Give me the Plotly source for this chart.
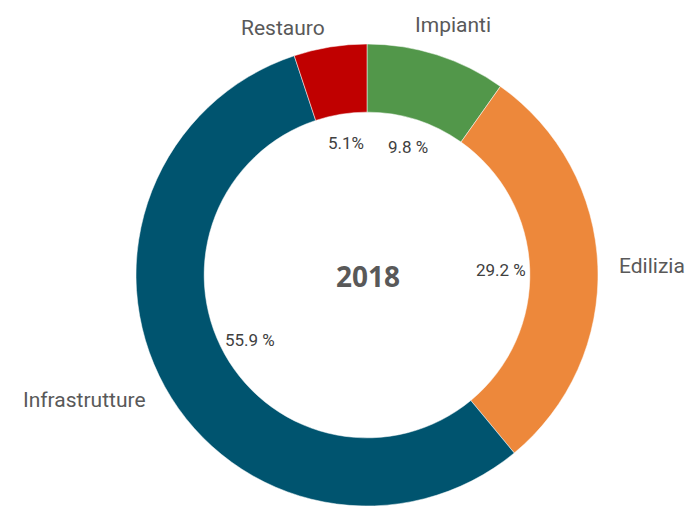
import math
import plotly.graph_objects as go

# ---- data ----
categories = ["Impianti", "Edilizia", "Infrastrutture", "Restauro"]
values = [9.8, 29.2, 55.9, 5.1]
pct_labels = ["9.8 %", "29.2 %", "55.9 %", "5.1%"]
colors = ["#52974A", "#ED883B", "#00546F", "#C00000"]
center_title = "2018"

# ---- layout geometry (pixels) ----
W, H = 688, 506
cx, cy = 367, 275          # donut centre
R = 231                    # outer radius
hole = 0.705
r_pct = 134                # radius for percentage labels (inside the hole)
r_lab = 250                # radius for category labels
label_shift = {"Impianti": (-30, -12), "Infrastrutture": (0, 4)}  # small placement tweaks (px)

fig = go.Figure()
fig.add_trace(go.Pie(
    labels=categories,
    values=values,
    marker=dict(colors=colors, line=dict(color="white", width=0.5)),
    hole=hole,
    sort=False,
    direction="clockwise",
    rotation=0,
    textinfo="none",
    hoverinfo="label+percent",
    showlegend=False,
    domain=dict(x=[(cx - R) / W, (cx + R) / W],
                y=[max(0, (H - cy - R) / H), min(1, (H - cy + R) / H)]),
))

annotations = []
total = sum(values)
cum = 0.0
for cat, v, pl in zip(categories, values, pct_labels):
    mid = (cum + v / 2) / total * 2 * math.pi
    cum += v
    s, c = math.sin(mid), math.cos(mid)
    # percentage label inside the hole
    px, py = cx + r_pct * s, cy - r_pct * c
    annotations.append(dict(
        x=px / W, y=1 - py / H, xref="paper", yref="paper",
        text=pl, showarrow=False, xanchor="center", yanchor="middle",
        font=dict(family="Roboto", size=17, color="#404040"),
    ))
    # category label outside the ring
    dx, dy = label_shift.get(cat, (0, 0))
    lx, ly = cx + r_lab * s + dx, cy - r_lab * c + dy
    annotations.append(dict(
        x=lx / W, y=1 - ly / H, xref="paper", yref="paper",
        text=cat, showarrow=False,
        xanchor="left" if s > 0 else "right", yanchor="middle",
        font=dict(family="Roboto", size=21, color="#595959"),
    ))

annotations.append(dict(
    x=368 / W, y=1 - 276 / H, xref="paper", yref="paper",
    text="<b>" + center_title + "</b>", showarrow=False,
    xanchor="center", yanchor="middle",
    font=dict(family="Open Sans", size=28, color="#595959"),
))

fig.update_layout(
    width=W, height=H,
    margin=dict(l=0, r=0, t=0, b=0),
    paper_bgcolor="white", plot_bgcolor="white",
    annotations=annotations,
)

fig.write_html(
    "out.html",
    config={"displayModeBar": False},
    post_script="document.body.style.margin='0';document.body.style.overflow='hidden';",
)
